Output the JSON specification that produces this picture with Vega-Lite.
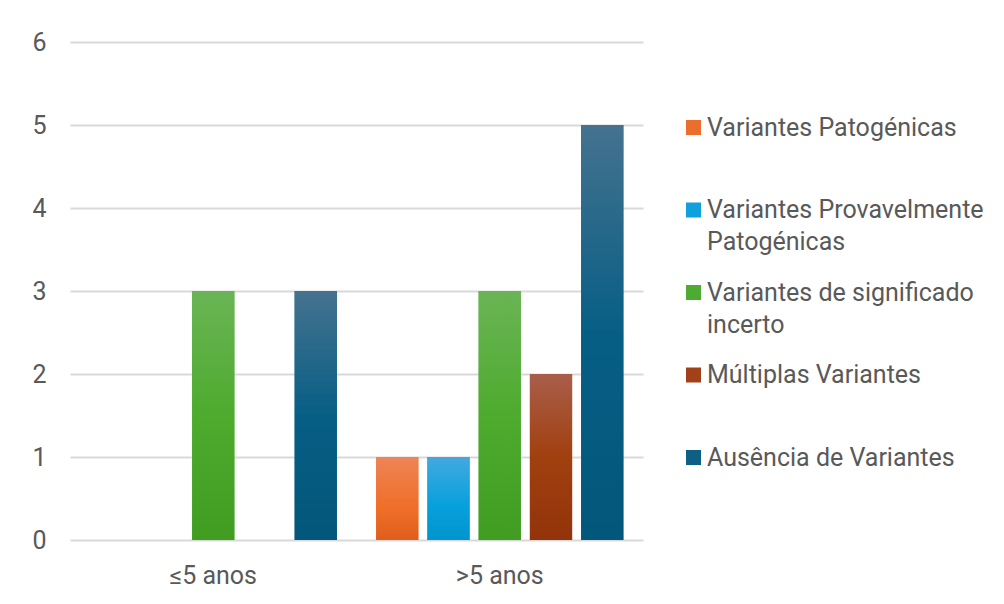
{
  "$schema": "https://vega.github.io/schema/vega-lite/v6.json",
  "width": 573,
  "height": 498,
  "autosize": {"type": "none"},
  "padding": {"left": 70, "top": 42, "right": 361, "bottom": 64},
  "background": "white",
  "config": {
    "view": {"stroke": null},
    "font": "Roboto",
    "style": {"guide-label": {"lineHeight": 32}}
  },
  "data": {
    "values": [
      {"grupo": "≤5 anos", "tipo": "Variantes Patogénicas", "n": 0},
      {"grupo": "≤5 anos", "tipo": "Variantes Provavelmente Patogénicas", "n": 0},
      {"grupo": "≤5 anos", "tipo": "Variantes de significado incerto", "n": 3},
      {"grupo": "≤5 anos", "tipo": "Múltiplas Variantes", "n": 0},
      {"grupo": "≤5 anos", "tipo": "Ausência de Variantes", "n": 3},
      {"grupo": ">5 anos", "tipo": "Variantes Patogénicas", "n": 1},
      {"grupo": ">5 anos", "tipo": "Variantes Provavelmente Patogénicas", "n": 1},
      {"grupo": ">5 anos", "tipo": "Variantes de significado incerto", "n": 3},
      {"grupo": ">5 anos", "tipo": "Múltiplas Variantes", "n": 2},
      {"grupo": ">5 anos", "tipo": "Ausência de Variantes", "n": 5}
    ]
  },
  "encoding": {
    "x": {
      "field": "grupo", "type": "nominal", "sort": ["≤5 anos", ">5 anos"],
      "scale": {"paddingInner": 0.137, "paddingOuter": 0.0685},
      "axis": {"title": null, "labelAngle": 0, "ticks": false, "domain": false, "labelFontSize": 25, "labelColor": "#595959", "labelPadding": 23, "labelFont": "Roboto"}
    },
    "xOffset": {
      "field": "tipo", "type": "nominal",
      "scale": {"domain": ["Variantes Patogénicas", "Variantes Provavelmente Patogénicas", "Variantes de significado incerto", "Múltiplas Variantes", "Ausência de Variantes"], "paddingInner": 0.176, "paddingOuter": 0}
    },
    "y": {
      "field": "n", "type": "quantitative",
      "scale": {"domain": [0, 6], "nice": false},
      "axis": {"title": null, "values": [0, 1, 2, 3, 4, 5, 6], "ticks": false, "domain": false, "grid": true, "gridColor": "#d9d9d9", "gridWidth": 2, "labelPadding": 24, "labelFontSize": 25, "labelColor": "#595959", "labelFont": "Roboto"}
    }
  },
  "layer": [
    {
      "mark": {"type": "bar"},
      "encoding": {
        "color": {
          "field": "tipo", "type": "nominal",
          "scale": {"domain": ["Variantes Patogénicas", "Variantes Provavelmente Patogénicas", "Variantes de significado incerto", "Múltiplas Variantes", "Ausência de Variantes"], "range": ["#EC6E2C", "#10A1DC", "#4DAB32", "#A0411A", "#0E5F85"]},
          "legend": {
            "title": null, "orient": "none", "legendX": 611, "legendY": 73, "padding": 0,
            "symbolType": "square", "symbolSize": 225, "symbolStrokeWidth": 0,
            "labelFontSize": 25, "labelFont": "Roboto", "labelColor": "#595959", "labelLimit": 400, "labelOffset": 1,
            "rowPadding": 24.5,
            "labelExpr": "datum.label == 'Variantes Provavelmente Patogénicas' ? ['Variantes Provavelmente', 'Patogénicas'] : datum.label == 'Variantes de significado incerto' ? ['Variantes de significado', 'incerto'] : [datum.label, '']"
          }
        }
      }
    },
    {
      "transform": [{"filter": "datum.tipo == 'Variantes Patogénicas'"}],
      "mark": {"type": "bar", "color": {"gradient": "linear", "x1": 0, "y1": 0, "x2": 0, "y2": 1, "stops": [{"offset": 0, "color": "#EE8456"}, {"offset": 0.6, "color": "#F06F29"}, {"offset": 1, "color": "#E05E1C"}]}}
    },
    {
      "transform": [{"filter": "datum.tipo == 'Variantes Provavelmente Patogénicas'"}],
      "mark": {"type": "bar", "color": {"gradient": "linear", "x1": 0, "y1": 0, "x2": 0, "y2": 1, "stops": [{"offset": 0, "color": "#43A9E0"}, {"offset": 0.6, "color": "#06A0DC"}, {"offset": 1, "color": "#0095CE"}]}}
    },
    {
      "transform": [{"filter": "datum.tipo == 'Variantes de significado incerto'"}],
      "mark": {"type": "bar", "color": {"gradient": "linear", "x1": 0, "y1": 0, "x2": 0, "y2": 1, "stops": [{"offset": 0, "color": "#6AB455"}, {"offset": 0.5, "color": "#4EAB2E"}, {"offset": 1, "color": "#409D22"}]}}
    },
    {
      "transform": [{"filter": "datum.tipo == 'Múltiplas Variantes'"}],
      "mark": {"type": "bar", "color": {"gradient": "linear", "x1": 0, "y1": 0, "x2": 0, "y2": 1, "stops": [{"offset": 0, "color": "#A95E4A"}, {"offset": 0.5, "color": "#A1400F"}, {"offset": 1, "color": "#92330A"}]}}
    },
    {
      "transform": [{"filter": "datum.tipo == 'Ausência de Variantes'"}],
      "mark": {"type": "bar", "color": {"gradient": "linear", "x1": 0, "y1": 0, "x2": 0, "y2": 1, "stops": [{"offset": 0, "color": "#45728F"}, {"offset": 0.5, "color": "#075E85"}, {"offset": 1, "color": "#02577A"}]}}
    }
  ]
}
